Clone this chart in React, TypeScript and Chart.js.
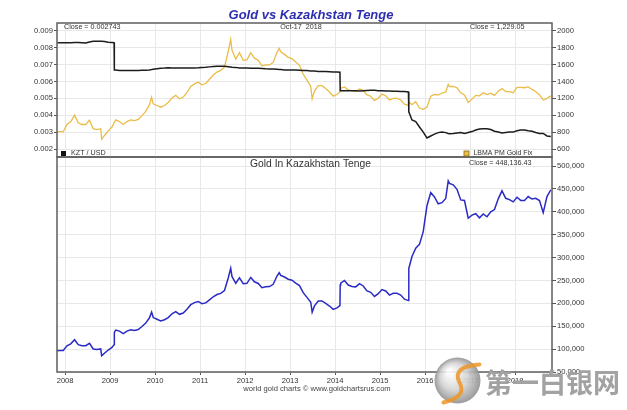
import React, { useEffect, useRef } from "react";
import { Chart, registerables } from "chart.js";
Chart.register(...registerables);

// ---- data ----
const dates = [
  "2007-10-27","2007-11","2007-12","2008-01","2008-02","2008-03-17","2008-04","2008-05","2008-06","2008-07",
  "2008-08","2008-09","2008-10","2008-10-24","2008-11","2008-12","2009-01","2009-02-03","2009-02-05","2009-02",
  "2009-03","2009-04","2009-05","2009-06","2009-07","2009-08","2009-09","2009-10","2009-11","2009-12-03",
  "2009-12","2010-01","2010-02","2010-03","2010-04","2010-05","2010-06","2010-07","2010-08","2010-09",
  "2010-10","2010-11","2010-12","2011-01","2011-02","2011-03","2011-04","2011-05","2011-06","2011-07",
  "2011-08","2011-09-06","2011-09","2011-10","2011-11","2011-12","2012-01","2012-02","2012-03","2012-04",
  "2012-05","2012-06","2012-07","2012-08","2012-09","2012-10-04","2012-10","2012-11","2012-12","2013-01",
  "2013-02","2013-03","2013-04","2013-05","2013-06","2013-06-28","2013-07","2013-08","2013-09","2013-10",
  "2013-11","2013-12","2014-01","2014-02-10","2014-02-12","2014-02","2014-03","2014-04","2014-05","2014-06",
  "2014-07","2014-08","2014-09","2014-10","2014-11","2014-12","2015-01","2015-02","2015-03","2015-04",
  "2015-05","2015-06","2015-07","2015-08-18","2015-08-21","2015-09","2015-10","2015-11","2015-12","2016-01",
  "2016-02","2016-03","2016-04","2016-05","2016-06","2016-07-06","2016-07","2016-08","2016-09","2016-10",
  "2016-11","2016-12","2017-01","2017-02","2017-03","2017-04","2017-05","2017-06","2017-07","2017-08",
  "2017-09","2017-10","2017-11","2017-12","2018-01","2018-02","2018-03","2018-04","2018-05","2018-06",
  "2018-07","2018-08","2018-09","2018-10-17",
];

const goldUsd = [
  800,805,805,890,925,1000,910,890,890,940,
  840,830,840,715,760,815,860,910,910,945,
  925,890,925,945,935,950,995,1045,1125,1212,
  1135,1115,1095,1115,1150,1205,1235,1195,1215,1270,
  1340,1370,1390,1360,1375,1425,1475,1510,1530,1570,
  1755,1895,1770,1665,1740,1650,1655,1740,1675,1650,
  1585,1595,1595,1625,1745,1790,1750,1720,1685,1670,
  1630,1590,1485,1415,1340,1195,1285,1350,1350,1315,
  1275,1225,1245,1275,1290,1320,1335,1300,1290,1280,
  1310,1295,1240,1225,1175,1200,1250,1230,1180,1200,
  1200,1180,1130,1117,1160,1125,1160,1085,1070,1095,
  1225,1245,1240,1260,1275,1365,1340,1340,1325,1265,
  1240,1150,1190,1235,1230,1265,1245,1260,1235,1285,
  1315,1280,1280,1265,1330,1330,1325,1335,1305,1280,
  1240,1180,1200,1229.05,
];

const kztUsd = [
  0.00828,0.00829,0.00829,0.00829,0.00829,0.0083,0.0083,0.00829,0.00827,0.00833,
  0.00838,0.00838,0.00837,0.00837,0.00836,0.00832,0.0083,0.00829,0.00667,0.00667,
  0.00664,0.00664,0.00664,0.00665,0.00664,0.00665,0.00666,0.00666,0.00668,0.0067,
  0.00672,0.00675,0.00678,0.00679,0.00681,0.0068,0.00679,0.00679,0.00679,0.00679,
  0.0068,0.0068,0.00681,0.00683,0.00684,0.00686,0.00688,0.00689,0.0069,0.00689,
  0.00687,0.00685,0.00684,0.00683,0.0068,0.00679,0.00679,0.00678,0.00678,0.00678,
  0.00677,0.00675,0.00674,0.00673,0.00672,0.00671,0.0067,0.00668,0.00667,0.00667,
  0.00667,0.00666,0.00665,0.00664,0.00662,0.00661,0.00661,0.00659,0.00658,0.00658,
  0.00657,0.00656,0.00655,0.00654,0.00545,0.00545,0.00545,0.00545,0.00545,0.00544,
  0.00543,0.00545,0.00546,0.00547,0.00547,0.00545,0.00544,0.00543,0.00543,0.00542,
  0.00542,0.00541,0.0054,0.00538,0.0042,0.00372,0.00362,0.0033,0.003,0.00265,
  0.00277,0.00288,0.00297,0.003,0.00297,0.00292,0.0029,0.00292,0.00295,0.00297,
  0.00292,0.00298,0.00303,0.00312,0.00318,0.0032,0.0032,0.00315,0.00305,0.003,
  0.00295,0.00298,0.003,0.003,0.00308,0.00313,0.00312,0.00308,0.00305,0.00298,
  0.00292,0.00292,0.00277,0.002743,
];

const goldKzt = [
  96600,97100,97100,107300,111600,120500,109700,107300,107600,112800,
  100200,99000,100400,85400,90900,98000,103600,109800,136400,141700,
  139300,134000,139300,142100,140800,142900,149400,156900,168400,180900,
  168900,165200,161500,164200,168900,177200,181900,176000,178900,187000,
  197100,201500,204100,199100,201000,207700,214400,219200,221700,227900,
  255500,276600,258800,243800,255900,243000,243700,256600,247100,243400,
  234100,236300,236600,241500,259700,266800,261200,257500,252600,250400,
  244400,238700,223300,213100,202400,180800,194400,204900,205200,199800,
  194100,186700,190100,195000,240000,244000,250000,240000,237000,236000,
  243000,238000,227000,224000,215000,221000,230000,227000,218000,222000,
  222000,218000,209000,206000,276200,302400,320400,328800,356700,413200,
  442200,432300,417500,420000,429300,467500,462100,458900,449200,425900,
  424700,385900,392700,395800,386800,395300,389100,400000,404900,428300,
  445800,429500,426700,421700,431800,424900,424700,433400,427900,429500,
  424700,398000,433200,448136.43,
];

const kztTicks = [0.002, 0.003, 0.004, 0.005, 0.006, 0.007, 0.008, 0.009];
const goldTicks = [600, 800, 1000, 1200, 1400, 1600, 1800, 2000];
const tengeTicks = [50000, 100000, 150000, 200000, 250000, 300000, 350000, 400000, 450000, 500000];
const yearTicks = [2008, 2009, 2010, 2011, 2012, 2013, 2014, 2015, 2016, 2017, 2018];

const X_MIN = 2007.82;
const X_MAX = 2018.82;

const FONT = '"Liberation Sans", Arial, sans-serif';
const GRID = "#e8e8e8";
const TICKC = "#555";
const TEXTC = "#333";
const GOLD = "rgb(234,188,72)";
const BLUE = "rgb(42,42,196)";

function toYear(d: string): number {
  const p = d.split("-").map(Number);
  if (p.length === 3) return p[0] + (p[1] - 1 + (p[2] - 1) / 30.5) / 12;
  return p[0] + (p[1] - 0.5) / 12;
}

function series(vals: number[]) {
  return dates.map((d, i) => ({ x: toYear(d), y: vals[i] }));
}

const framePlugin = {
  id: "frame",
  afterDatasetsDraw(chart: any) {
    const { ctx, chartArea: a } = chart;
    ctx.save();
    ctx.strokeStyle = "#5e5e5e";
    ctx.lineWidth = 1.5;
    ctx.strokeRect(a.left, a.top, a.right - a.left, a.bottom - a.top);
    ctx.restore();
  },
};

function txt(ctx: CanvasRenderingContext2D, s: string, x: number, y: number, font: string, color: string, align: CanvasTextAlign, maxW?: number) {
  ctx.font = font;
  ctx.fillStyle = color;
  ctx.textAlign = align;
  ctx.textBaseline = "middle";
  if (maxW) ctx.fillText(s, x, y, maxW);
  else ctx.fillText(s, x, y);
}

const topTexts = {
  id: "topTexts",
  afterDraw(chart: any) {
    const ctx = chart.ctx as CanvasRenderingContext2D;
    ctx.save();
    ctx.textBaseline = "alphabetic";
    ctx.font = `italic bold 13px ${FONT}`;
    ctx.fillStyle = "#2e2eb0";
    ctx.textAlign = "center";
    ctx.fillText("Gold vs Kazakhstan Tenge", 311, 19);
    const f7 = `7.2px ${FONT}`;
    txt(ctx, "Close = 0.002743", 64, 27.5, f7, TEXTC, "left");
    txt(ctx, "Oct-17  2018", 301, 27.5, f7, TEXTC, "center");
    txt(ctx, "Close = 1,229.05", 470, 27.5, f7, TEXTC, "left");
    ctx.fillStyle = "#111";
    ctx.fillRect(61, 151, 5, 5);
    txt(ctx, "KZT / USD", 71, 153.5, f7, TEXTC, "left");
    ctx.fillStyle = GOLD;
    ctx.fillRect(464, 151, 5, 5);
    ctx.strokeStyle = "#8a6a10";
    ctx.lineWidth = 0.8;
    ctx.strokeRect(464, 151, 5, 5);
    txt(ctx, "LBMA PM Gold Fix", 473.5, 153.5, f7, TEXTC, "left", 59);
    ctx.restore();
  },
};

const bottomTexts = {
  id: "bottomTexts",
  afterDraw(chart: any) {
    const ctx = chart.ctx as CanvasRenderingContext2D;
    ctx.save();
    txt(ctx, "Gold In Kazakhstan Tenge", 310.5, 164, `11px ${FONT}`, TEXTC, "center", 121);
    txt(ctx, "Close = 448,136.43", 469, 163, `7.2px ${FONT}`, TEXTC, "left");
    txt(ctx, "world gold charts \u00a9 www.goldchartsrus.com", 317, 388.5, `7.6px ${FONT}`, "#444", "center");
    // watermark
    const cx = 457.5, cy = 380.5, r = 23;
    const g = ctx.createRadialGradient(cx - 8, cy - 9, 2, cx, cy, r);
    g.addColorStop(0, "#ffffff");
    g.addColorStop(0.55, "#d4d4d4");
    g.addColorStop(1, "#909090");
    ctx.globalAlpha = 0.9;
    ctx.fillStyle = g;
    ctx.beginPath();
    ctx.arc(cx, cy, r, 0, Math.PI * 2);
    ctx.fill();
    ctx.strokeStyle = "rgba(238,150,40,0.95)";
    ctx.lineWidth = 4;
    ctx.lineCap = "round";
    ctx.beginPath();
    ctx.moveTo(cx + 22, cy - 16);
    ctx.quadraticCurveTo(cx - 6, cy - 14, cx + 2, cy + 2);
    ctx.quadraticCurveTo(cx + 10, cy + 16, cx - 14, cy + 22);
    ctx.stroke();
    ctx.globalAlpha = 1;
    txt(ctx, "第一白银网", 485, 383, `bold 27px "Noto Sans CJK SC", sans-serif`, "#a2a2a2", "left", 137);
    ctx.restore();
  },
};

const tickFont = { family: FONT, size: 7.6 };

export default function App() {
  const topRef = useRef<HTMLCanvasElement>(null);
  const botRef = useRef<HTMLCanvasElement>(null);

  useEffect(() => {
    const c1 = new Chart(topRef.current as HTMLCanvasElement, {
      type: "line",
      data: {
        datasets: [
          {
            label: "KZT / USD",
            data: series(kztUsd),
            yAxisID: "yKzt",
            borderColor: "#1c1c1c",
            borderWidth: 1.5,
            pointRadius: 0,
            tension: 0,
          },
          {
            label: "LBMA PM Gold Fix",
            data: series(goldUsd),
            yAxisID: "yGold",
            borderColor: GOLD,
            borderWidth: 1.3,
            pointRadius: 0,
            tension: 0,
          },
        ],
      },
      options: {
        animation: false,
        responsive: false,
        events: [],
        layout: { padding: { top: 23, bottom: 253, left: 0, right: 0 } },
        plugins: { legend: { display: false }, tooltip: { enabled: false }, title: { display: false } },
        scales: {
          x: {
            type: "linear",
            min: X_MIN,
            max: X_MAX,
            afterBuildTicks: (s: any) => { s.ticks = yearTicks.map((v) => ({ value: v })); },
            ticks: { display: false },
            grid: { color: GRID, drawTicks: false },
            border: { display: false },
            afterFit: (s: any) => { s.height = 0; },
          },
          yKzt: {
            position: "left",
            min: 0.001527,
            max: 0.009456,
            afterBuildTicks: (s: any) => { s.ticks = kztTicks.map((v) => ({ value: v })); },
            ticks: { font: tickFont, color: TEXTC, padding: 1, callback: (v: any) => Number(v).toFixed(3) },
            grid: { color: GRID, tickColor: TICKC, tickLength: 3 },
            border: { display: false },
            afterFit: (s: any) => { s.width = 57; },
          },
          yGold: {
            position: "right",
            min: 505.4,
            max: 2091.2,
            afterBuildTicks: (s: any) => { s.ticks = goldTicks.map((v) => ({ value: v })); },
            ticks: { font: tickFont, color: TEXTC, padding: 1, callback: (v: any) => String(v) },
            grid: { color: GRID, tickColor: TICKC, tickLength: 4, drawOnChartArea: false },
            border: { display: false },
            afterFit: (s: any) => { s.width = 75; },
          },
        },
      } as any,
      plugins: [framePlugin, topTexts],
    });

    const c2 = new Chart(botRef.current as HTMLCanvasElement, {
      type: "line",
      data: {
        datasets: [
          {
            label: "Gold In Kazakhstan Tenge",
            data: series(goldKzt),
            yAxisID: "yT",
            borderColor: BLUE,
            borderWidth: 1.5,
            pointRadius: 0,
            tension: 0,
          },
        ],
      },
      options: {
        animation: false,
        responsive: false,
        events: [],
        layout: { padding: { top: 157, bottom: 0, left: 57, right: 0 } },
        plugins: { legend: { display: false }, tooltip: { enabled: false }, title: { display: false } },
        scales: {
          x: {
            type: "linear",
            min: X_MIN,
            max: X_MAX,
            afterBuildTicks: (s: any) => { s.ticks = yearTicks.map((v) => ({ value: v })); },
            ticks: { font: tickFont, color: TEXTC, padding: 1, autoSkip: false, maxRotation: 0, callback: (v: any) => String(v) },
            grid: { color: GRID, tickColor: TICKC, tickLength: 3 },
            border: { display: false },
            afterFit: (s: any) => { s.height = 38; },
          },
          yT: {
            position: "right",
            min: 50000,
            max: 519700,
            afterBuildTicks: (s: any) => { s.ticks = tengeTicks.map((v) => ({ value: v })); },
            ticks: { font: tickFont, color: TEXTC, padding: 1, callback: (v: any) => Number(v).toLocaleString("en-US") },
            grid: { color: GRID, tickColor: TICKC, tickLength: 4 },
            border: { display: false },
            afterFit: (s: any) => { s.width = 75; },
          },
        },
      } as any,
      plugins: [framePlugin, bottomTexts],
    });

    return () => {
      c1.destroy();
      c2.destroy();
    };
  }, []);

  return (
    <div style={{ position: "fixed", left: 0, top: 0, width: 627, height: 410, background: "#fff" }}>
      <canvas ref={botRef} width={627} height={410} style={{ position: "absolute", left: 0, top: 0 }} />
      <canvas ref={topRef} width={627} height={410} style={{ position: "absolute", left: 0, top: 0 }} />
    </div>
  );
}
